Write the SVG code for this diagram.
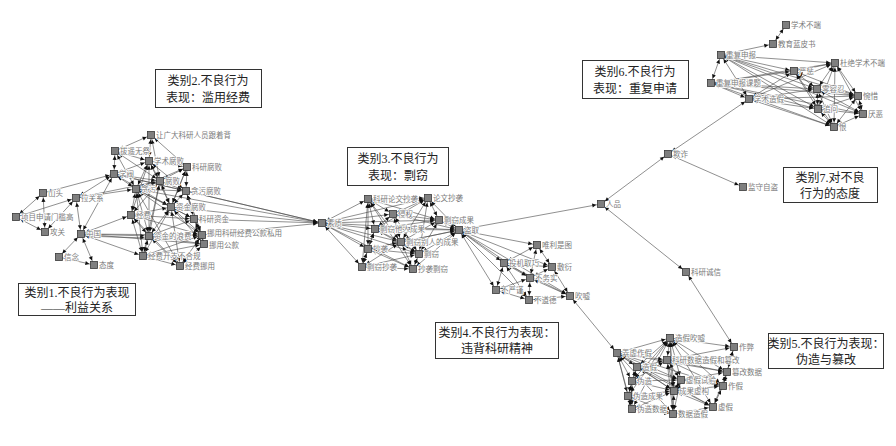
<svg xmlns="http://www.w3.org/2000/svg" width="896" height="446" viewBox="0 0 896 446">
<defs>
<marker id="ah" viewBox="0 0 10 10" refX="22" refY="5" markerUnits="userSpaceOnUse" markerWidth="4" markerHeight="4" orient="auto-start-reverse" overflow="visible"><path d="M0,0L10,5L0,10z" fill="#111"/></marker>
</defs>
<style>
.bg{fill:#fff}
#connectors line{stroke:#444;stroke-width:0.6;marker-start:url(#ah);marker-end:url(#ah)}
.node rect{fill:#7f7f7f;stroke:#3a3a3a;stroke-width:0.8}
.node text{font-family:"Noto Sans CJK SC","Liberation Sans",sans-serif;font-size:7.5px;fill:#7a7a7a;stroke:#fff;stroke-width:1.6;paint-order:stroke;stroke-linejoin:round}
.box rect{fill:#fff;stroke:#333;stroke-width:1}
.box text{font-family:"Liberation Serif","Noto Sans CJK SC",serif;font-size:12px;fill:#222;text-anchor:middle}
</style>
<rect class="bg" x="0" y="0" width="896" height="446"/>
<g id="connectors">
<line x1="16" y1="217" x2="43" y2="193"/>
<line x1="16" y1="217" x2="45" y2="232"/>
<line x1="16" y1="217" x2="76" y2="198"/>
<line x1="43" y1="193" x2="45" y2="232"/>
<line x1="43" y1="193" x2="114" y2="174"/>
<line x1="45" y1="232" x2="76" y2="198"/>
<line x1="76" y1="198" x2="81" y2="234"/>
<line x1="81" y1="234" x2="59" y2="257"/>
<line x1="81" y1="234" x2="94" y2="265"/>
<line x1="59" y1="257" x2="94" y2="265"/>
<line x1="76" y1="198" x2="114" y2="174"/>
<line x1="76" y1="198" x2="136" y2="189"/>
<line x1="76" y1="198" x2="160" y2="181"/>
<line x1="81" y1="234" x2="114" y2="174"/>
<line x1="81" y1="234" x2="131" y2="215"/>
<line x1="81" y1="234" x2="149" y2="236"/>
<line x1="81" y1="236" x2="149" y2="238"/>
<line x1="81" y1="234" x2="202" y2="235"/>
<line x1="81" y1="234" x2="204" y2="244"/>
<line x1="81" y1="234" x2="143" y2="256"/>
<line x1="115" y1="151" x2="151" y2="135"/>
<line x1="115" y1="151" x2="149" y2="161"/>
<line x1="115" y1="151" x2="136" y2="189"/>
<line x1="115" y1="151" x2="160" y2="181"/>
<line x1="151" y1="135" x2="149" y2="161"/>
<line x1="151" y1="135" x2="160" y2="181"/>
<line x1="151" y1="135" x2="187" y2="167"/>
<line x1="149" y1="161" x2="187" y2="167"/>
<line x1="149" y1="161" x2="160" y2="181"/>
<line x1="149" y1="161" x2="136" y2="189"/>
<line x1="149" y1="161" x2="186" y2="191"/>
<line x1="149" y1="161" x2="171" y2="207"/>
<line x1="149" y1="161" x2="131" y2="215"/>
<line x1="114" y1="174" x2="136" y2="189"/>
<line x1="114" y1="174" x2="149" y2="161"/>
<line x1="114" y1="174" x2="160" y2="181"/>
<line x1="114" y1="174" x2="186" y2="191"/>
<line x1="114" y1="174" x2="171" y2="207"/>
<line x1="114" y1="174" x2="115" y2="151"/>
<line x1="187" y1="167" x2="186" y2="191"/>
<line x1="187" y1="167" x2="160" y2="181"/>
<line x1="187" y1="167" x2="136" y2="189"/>
<line x1="187" y1="167" x2="171" y2="207"/>
<line x1="160" y1="181" x2="136" y2="189"/>
<line x1="160" y1="181" x2="186" y2="191"/>
<line x1="160" y1="181" x2="171" y2="207"/>
<line x1="160" y1="181" x2="131" y2="215"/>
<line x1="160" y1="181" x2="149" y2="236"/>
<line x1="160" y1="181" x2="143" y2="256"/>
<line x1="136" y1="189" x2="186" y2="191"/>
<line x1="136" y1="189" x2="171" y2="207"/>
<line x1="136" y1="189" x2="131" y2="215"/>
<line x1="136" y1="189" x2="194" y2="219"/>
<line x1="136" y1="189" x2="149" y2="236"/>
<line x1="136" y1="189" x2="143" y2="256"/>
<line x1="136" y1="189" x2="202" y2="235"/>
<line x1="136" y1="189" x2="180" y2="266"/>
<line x1="186" y1="191" x2="171" y2="207"/>
<line x1="186" y1="191" x2="194" y2="219"/>
<line x1="186" y1="191" x2="202" y2="235"/>
<line x1="186" y1="191" x2="204" y2="244"/>
<line x1="171" y1="207" x2="131" y2="215"/>
<line x1="171" y1="207" x2="194" y2="219"/>
<line x1="171" y1="207" x2="149" y2="236"/>
<line x1="171" y1="207" x2="202" y2="235"/>
<line x1="171" y1="207" x2="204" y2="244"/>
<line x1="171" y1="207" x2="143" y2="256"/>
<line x1="171" y1="207" x2="180" y2="266"/>
<line x1="131" y1="215" x2="149" y2="236"/>
<line x1="131" y1="215" x2="143" y2="256"/>
<line x1="131" y1="215" x2="194" y2="219"/>
<line x1="131" y1="215" x2="202" y2="235"/>
<line x1="131" y1="215" x2="180" y2="266"/>
<line x1="194" y1="219" x2="149" y2="236"/>
<line x1="194" y1="219" x2="202" y2="235"/>
<line x1="194" y1="219" x2="204" y2="244"/>
<line x1="149" y1="236" x2="202" y2="235"/>
<line x1="149" y1="236" x2="204" y2="244"/>
<line x1="149" y1="236" x2="143" y2="256"/>
<line x1="149" y1="236" x2="180" y2="266"/>
<line x1="202" y1="235" x2="204" y2="244"/>
<line x1="202" y1="235" x2="143" y2="256"/>
<line x1="202" y1="235" x2="180" y2="266"/>
<line x1="204" y1="244" x2="143" y2="256"/>
<line x1="204" y1="244" x2="180" y2="266"/>
<line x1="143" y1="256" x2="180" y2="266"/>
<line x1="149" y1="161" x2="149" y2="236"/>
<line x1="187" y1="167" x2="171" y2="207"/>
<line x1="114" y1="174" x2="322" y2="223"/>
<line x1="136" y1="189" x2="322" y2="223"/>
<line x1="186" y1="191" x2="322" y2="223"/>
<line x1="171" y1="207" x2="322" y2="223"/>
<line x1="194" y1="219" x2="322" y2="223"/>
<line x1="202" y1="235" x2="322" y2="223"/>
<line x1="322" y1="223" x2="368" y2="199"/>
<line x1="322" y1="223" x2="428" y2="198"/>
<line x1="322" y1="223" x2="393" y2="214"/>
<line x1="322" y1="223" x2="439" y2="220"/>
<line x1="322" y1="223" x2="375" y2="229"/>
<line x1="322" y1="223" x2="459" y2="230"/>
<line x1="322" y1="223" x2="401" y2="242"/>
<line x1="322" y1="223" x2="368" y2="249"/>
<line x1="322" y1="223" x2="419" y2="254"/>
<line x1="322" y1="223" x2="362" y2="267"/>
<line x1="322" y1="223" x2="413" y2="269"/>
<line x1="368" y1="199" x2="428" y2="198"/>
<line x1="368" y1="199" x2="393" y2="214"/>
<line x1="368" y1="199" x2="375" y2="229"/>
<line x1="368" y1="199" x2="368" y2="249"/>
<line x1="368" y1="199" x2="362" y2="267"/>
<line x1="368" y1="199" x2="401" y2="242"/>
<line x1="368" y1="199" x2="439" y2="220"/>
<line x1="368" y1="199" x2="413" y2="269"/>
<line x1="428" y1="198" x2="393" y2="214"/>
<line x1="428" y1="198" x2="439" y2="220"/>
<line x1="428" y1="198" x2="459" y2="230"/>
<line x1="428" y1="198" x2="375" y2="229"/>
<line x1="428" y1="198" x2="401" y2="242"/>
<line x1="428" y1="198" x2="419" y2="254"/>
<line x1="393" y1="214" x2="375" y2="229"/>
<line x1="393" y1="214" x2="401" y2="242"/>
<line x1="393" y1="214" x2="439" y2="220"/>
<line x1="393" y1="214" x2="459" y2="230"/>
<line x1="393" y1="214" x2="419" y2="254"/>
<line x1="439" y1="220" x2="459" y2="230"/>
<line x1="439" y1="220" x2="401" y2="242"/>
<line x1="439" y1="220" x2="375" y2="229"/>
<line x1="439" y1="220" x2="419" y2="254"/>
<line x1="375" y1="229" x2="401" y2="242"/>
<line x1="375" y1="229" x2="368" y2="249"/>
<line x1="375" y1="229" x2="419" y2="254"/>
<line x1="375" y1="229" x2="459" y2="230"/>
<line x1="375" y1="229" x2="362" y2="267"/>
<line x1="459" y1="230" x2="401" y2="242"/>
<line x1="459" y1="230" x2="419" y2="254"/>
<line x1="459" y1="230" x2="413" y2="269"/>
<line x1="459" y1="230" x2="368" y2="249"/>
<line x1="401" y1="242" x2="368" y2="249"/>
<line x1="401" y1="242" x2="419" y2="254"/>
<line x1="401" y1="242" x2="362" y2="267"/>
<line x1="401" y1="242" x2="413" y2="269"/>
<line x1="368" y1="249" x2="362" y2="267"/>
<line x1="368" y1="249" x2="419" y2="254"/>
<line x1="368" y1="249" x2="413" y2="269"/>
<line x1="419" y1="254" x2="413" y2="269"/>
<line x1="419" y1="254" x2="362" y2="267"/>
<line x1="362" y1="267" x2="413" y2="269"/>
<line x1="459" y1="230" x2="537" y2="245"/>
<line x1="459" y1="230" x2="504" y2="263"/>
<line x1="459" y1="230" x2="552" y2="267"/>
<line x1="459" y1="230" x2="530" y2="278"/>
<line x1="459" y1="230" x2="496" y2="290"/>
<line x1="459" y1="230" x2="570" y2="296"/>
<line x1="459" y1="230" x2="529" y2="300"/>
<line x1="504" y1="263" x2="537" y2="245"/>
<line x1="504" y1="263" x2="552" y2="267"/>
<line x1="504" y1="263" x2="530" y2="278"/>
<line x1="504" y1="263" x2="496" y2="290"/>
<line x1="504" y1="263" x2="529" y2="300"/>
<line x1="504" y1="263" x2="570" y2="296"/>
<line x1="530" y1="278" x2="552" y2="267"/>
<line x1="530" y1="278" x2="496" y2="290"/>
<line x1="530" y1="278" x2="529" y2="300"/>
<line x1="530" y1="278" x2="570" y2="296"/>
<line x1="530" y1="278" x2="537" y2="245"/>
<line x1="552" y1="267" x2="570" y2="296"/>
<line x1="552" y1="267" x2="537" y2="245"/>
<line x1="496" y1="290" x2="529" y2="300"/>
<line x1="529" y1="300" x2="570" y2="296"/>
<line x1="459" y1="230" x2="601" y2="204"/>
<line x1="601" y1="204" x2="668" y2="154"/>
<line x1="668" y1="154" x2="743" y2="187"/>
<line x1="668" y1="154" x2="749" y2="99"/>
<line x1="601" y1="204" x2="686" y2="272"/>
<line x1="686" y1="272" x2="734" y2="347"/>
<line x1="570" y1="296" x2="617" y2="353"/>
<line x1="773" y1="44" x2="786" y2="25"/>
<line x1="721" y1="55" x2="773" y2="44"/>
<line x1="721" y1="55" x2="835" y2="63"/>
<line x1="721" y1="55" x2="794" y2="71"/>
<line x1="721" y1="55" x2="711" y2="83"/>
<line x1="721" y1="55" x2="817" y2="89"/>
<line x1="721" y1="55" x2="858" y2="96"/>
<line x1="721" y1="55" x2="749" y2="99"/>
<line x1="721" y1="55" x2="818" y2="109"/>
<line x1="721" y1="55" x2="863" y2="114"/>
<line x1="721" y1="55" x2="834" y2="127"/>
<line x1="711" y1="83" x2="835" y2="63"/>
<line x1="711" y1="83" x2="794" y2="71"/>
<line x1="711" y1="83" x2="817" y2="89"/>
<line x1="711" y1="83" x2="858" y2="96"/>
<line x1="711" y1="83" x2="749" y2="99"/>
<line x1="711" y1="83" x2="818" y2="109"/>
<line x1="711" y1="83" x2="863" y2="114"/>
<line x1="711" y1="83" x2="834" y2="127"/>
<line x1="749" y1="99" x2="835" y2="63"/>
<line x1="749" y1="99" x2="794" y2="71"/>
<line x1="749" y1="99" x2="817" y2="89"/>
<line x1="749" y1="99" x2="818" y2="109"/>
<line x1="749" y1="99" x2="834" y2="127"/>
<line x1="749" y1="99" x2="858" y2="96"/>
<line x1="794" y1="71" x2="835" y2="63"/>
<line x1="794" y1="71" x2="817" y2="89"/>
<line x1="794" y1="71" x2="818" y2="109"/>
<line x1="794" y1="71" x2="834" y2="127"/>
<line x1="794" y1="71" x2="858" y2="96"/>
<line x1="835" y1="63" x2="817" y2="89"/>
<line x1="835" y1="63" x2="858" y2="96"/>
<line x1="835" y1="63" x2="863" y2="114"/>
<line x1="835" y1="63" x2="818" y2="109"/>
<line x1="835" y1="63" x2="834" y2="127"/>
<line x1="817" y1="89" x2="858" y2="96"/>
<line x1="817" y1="89" x2="818" y2="109"/>
<line x1="817" y1="89" x2="863" y2="114"/>
<line x1="817" y1="89" x2="834" y2="127"/>
<line x1="858" y1="96" x2="818" y2="109"/>
<line x1="858" y1="96" x2="863" y2="114"/>
<line x1="858" y1="96" x2="834" y2="127"/>
<line x1="818" y1="109" x2="863" y2="114"/>
<line x1="818" y1="109" x2="834" y2="127"/>
<line x1="863" y1="114" x2="834" y2="127"/>
<line x1="670" y1="338" x2="734" y2="347"/>
<line x1="670" y1="338" x2="617" y2="353"/>
<line x1="670" y1="338" x2="667" y2="360"/>
<line x1="670" y1="338" x2="637" y2="367"/>
<line x1="670" y1="338" x2="727" y2="372"/>
<line x1="670" y1="338" x2="632" y2="381"/>
<line x1="670" y1="338" x2="681" y2="380"/>
<line x1="670" y1="338" x2="723" y2="386"/>
<line x1="670" y1="338" x2="628" y2="396"/>
<line x1="670" y1="338" x2="674" y2="391"/>
<line x1="670" y1="338" x2="632" y2="409"/>
<line x1="670" y1="338" x2="713" y2="407"/>
<line x1="670" y1="338" x2="673" y2="414"/>
<line x1="617" y1="353" x2="667" y2="360"/>
<line x1="617" y1="353" x2="637" y2="367"/>
<line x1="617" y1="353" x2="632" y2="381"/>
<line x1="617" y1="353" x2="628" y2="396"/>
<line x1="617" y1="353" x2="632" y2="409"/>
<line x1="617" y1="353" x2="674" y2="391"/>
<line x1="617" y1="353" x2="681" y2="380"/>
<line x1="617" y1="353" x2="673" y2="414"/>
<line x1="617" y1="353" x2="713" y2="407"/>
<line x1="617" y1="353" x2="723" y2="386"/>
<line x1="617" y1="353" x2="727" y2="372"/>
<line x1="667" y1="360" x2="637" y2="367"/>
<line x1="667" y1="360" x2="632" y2="381"/>
<line x1="667" y1="360" x2="681" y2="380"/>
<line x1="667" y1="360" x2="674" y2="391"/>
<line x1="667" y1="360" x2="673" y2="414"/>
<line x1="667" y1="360" x2="727" y2="372"/>
<line x1="667" y1="360" x2="723" y2="386"/>
<line x1="637" y1="367" x2="632" y2="381"/>
<line x1="637" y1="367" x2="628" y2="396"/>
<line x1="637" y1="367" x2="681" y2="380"/>
<line x1="637" y1="367" x2="674" y2="391"/>
<line x1="637" y1="367" x2="713" y2="407"/>
<line x1="632" y1="381" x2="628" y2="396"/>
<line x1="632" y1="381" x2="632" y2="409"/>
<line x1="632" y1="381" x2="674" y2="391"/>
<line x1="632" y1="381" x2="681" y2="380"/>
<line x1="681" y1="380" x2="674" y2="391"/>
<line x1="681" y1="380" x2="723" y2="386"/>
<line x1="681" y1="380" x2="673" y2="414"/>
<line x1="681" y1="380" x2="727" y2="372"/>
<line x1="723" y1="386" x2="713" y2="407"/>
<line x1="723" y1="386" x2="674" y2="391"/>
<line x1="723" y1="386" x2="727" y2="372"/>
<line x1="628" y1="396" x2="632" y2="409"/>
<line x1="628" y1="396" x2="674" y2="391"/>
<line x1="628" y1="396" x2="673" y2="414"/>
<line x1="674" y1="391" x2="673" y2="414"/>
<line x1="674" y1="391" x2="713" y2="407"/>
<line x1="632" y1="409" x2="673" y2="414"/>
<line x1="632" y1="409" x2="674" y2="391"/>
<line x1="713" y1="407" x2="673" y2="414"/>
<line x1="734" y1="347" x2="727" y2="372"/>
<line x1="734" y1="347" x2="723" y2="386"/>
<line x1="734" y1="347" x2="667" y2="360"/>
<line x1="727" y1="372" x2="713" y2="407"/>
</g>
<g id="n-shantou" class="node" transform="translate(43,193)"><rect x="-3.5" y="-3.5" width="7" height="7"/><text x="5" y="3">山头</text></g>
<g id="n-menkan" class="node" transform="translate(16,217)"><rect x="-3.5" y="-3.5" width="7" height="7"/><text x="5" y="3">项目申请门槛高</text></g>
<g id="n-gongguan" class="node" transform="translate(45,232)"><rect x="-3.5" y="-3.5" width="7" height="7"/><text x="5" y="3">攻关</text></g>
<g id="n-laguanxi" class="node" transform="translate(76,198)"><rect x="-3.5" y="-3.5" width="7" height="7"/><text x="5" y="3">拉关系</text></g>
<g id="n-zhongguo" class="node" transform="translate(81,234)"><rect x="-3.5" y="-3.5" width="7" height="7"/><text x="5" y="3">中国</text></g>
<g id="n-xinnian" class="node" transform="translate(59,257)"><rect x="-3.5" y="-3.5" width="7" height="7"/><text x="5" y="3">信念</text></g>
<g id="n-taidu" class="node" transform="translate(94,265)"><rect x="-3.5" y="-3.5" width="7" height="7"/><text x="5" y="3">态度</text></g>
<g id="n-xuefa" class="node" transform="translate(114,174)"><rect x="-3.5" y="-3.5" width="7" height="7"/><text x="5" y="3">学阀</text></g>
<g id="n-bayao" class="node" transform="translate(115,151)"><rect x="-3.5" y="-3.5" width="7" height="7"/><text x="5" y="3">拔遥无祭</text></g>
<g id="n-rangguangda" class="node" transform="translate(151,135)"><rect x="-3.5" y="-3.5" width="7" height="7"/><text x="5" y="3">让广大科研人员跟着背</text></g>
<g id="n-xueshufubai" class="node" transform="translate(149,161)"><rect x="-3.5" y="-3.5" width="7" height="7"/><text x="5" y="3">学术腐败</text></g>
<g id="n-keyanfubai" class="node" transform="translate(187,167)"><rect x="-3.5" y="-3.5" width="7" height="7"/><text x="5" y="3">科研腐败</text></g>
<g id="n-fubai" class="node" transform="translate(160,181)"><rect x="-3.5" y="-3.5" width="7" height="7"/><text x="5" y="3">腐败</text></g>
<g id="n-tanwu" class="node" transform="translate(136,189)"><rect x="-3.5" y="-3.5" width="7" height="7"/><text x="5" y="3">贪污</text></g>
<g id="n-tanwufubai" class="node" transform="translate(186,191)"><rect x="-3.5" y="-3.5" width="7" height="7"/><text x="5" y="3">贪污腐败</text></g>
<g id="n-zijinfubai" class="node" transform="translate(171,207)"><rect x="-3.5" y="-3.5" width="7" height="7"/><text x="5" y="3">资金腐败</text></g>
<g id="n-jingfei" class="node" transform="translate(131,215)"><rect x="-3.5" y="-3.5" width="7" height="7"/><text x="5" y="3">经费</text></g>
<g id="n-keyanzijin" class="node" transform="translate(194,219)"><rect x="-3.5" y="-3.5" width="7" height="7"/><text x="5" y="3">科研资金</text></g>
<g id="n-langfei" class="node" transform="translate(149,236)"><rect x="-3.5" y="-3.5" width="7" height="7"/><text x="5" y="3">资金的浪费</text></g>
<g id="n-nuoyongkeyan" class="node" transform="translate(202,235)"><rect x="-3.5" y="-3.5" width="7" height="7"/><text x="5" y="0.5">挪用科研经费公款私用</text></g>
<g id="n-nuoyonggongkuan" class="node" transform="translate(204,244)"><rect x="-3.5" y="-3.5" width="7" height="7"/><text x="5" y="4">挪用公款</text></g>
<g id="n-buhegui" class="node" transform="translate(143,256)"><rect x="-3.5" y="-3.5" width="7" height="7"/><text x="5" y="3">经费开支不合规</text></g>
<g id="n-jingfeinuoyong" class="node" transform="translate(180,266)"><rect x="-3.5" y="-3.5" width="7" height="7"/><text x="5" y="3">经费挪用</text></g>
<g id="n-suzhi" class="node" transform="translate(322,223)"><rect x="-3.5" y="-3.5" width="7" height="7"/><text x="5" y="3">素质</text></g>
<g id="n-keyanlunwen" class="node" transform="translate(368,199)"><rect x="-3.5" y="-3.5" width="7" height="7"/><text x="5" y="3">科研论文抄袭</text></g>
<g id="n-lunwenchaoxi" class="node" transform="translate(428,198)"><rect x="-3.5" y="-3.5" width="7" height="7"/><text x="5" y="3">论文抄袭</text></g>
<g id="n-qinquan" class="node" transform="translate(393,214)"><rect x="-3.5" y="-3.5" width="7" height="7"/><text x="5" y="3">侵权</text></g>
<g id="n-piaoqiechengguo" class="node" transform="translate(439,220)"><rect x="-3.5" y="-3.5" width="7" height="7"/><text x="5" y="3">剽窃成果</text></g>
<g id="n-piaoqietaren" class="node" transform="translate(375,229)"><rect x="-3.5" y="-3.5" width="7" height="7"/><text x="5" y="3">剽窃他人成果</text></g>
<g id="n-daoqu" class="node" transform="translate(459,230)"><rect x="-3.5" y="-3.5" width="7" height="7"/><text x="5" y="3">盗取</text></g>
<g id="n-piaoqiebieren" class="node" transform="translate(401,242)"><rect x="-3.5" y="-3.5" width="7" height="7"/><text x="5" y="3">剽窃别人的成果</text></g>
<g id="n-chaoxi" class="node" transform="translate(368,249)"><rect x="-3.5" y="-3.5" width="7" height="7"/><text x="5" y="3">抄袭</text></g>
<g id="n-piaoqie" class="node" transform="translate(419,254)"><rect x="-3.5" y="-3.5" width="7" height="7"/><text x="5" y="3">剽窃</text></g>
<g id="n-piaoqiechaoxi" class="node" transform="translate(362,267)"><rect x="-3.5" y="-3.5" width="7" height="7"/><text x="5" y="3">剽窃抄袭</text></g>
<g id="n-chaoxipiaoqie" class="node" transform="translate(413,269)"><rect x="-3.5" y="-3.5" width="7" height="7"/><text x="5" y="3">抄袭剽窃</text></g>
<g id="n-weilishitu" class="node" transform="translate(537,245)"><rect x="-3.5" y="-3.5" width="7" height="7"/><text x="5" y="3">唯利是图</text></g>
<g id="n-toujiquqiao" class="node" transform="translate(504,263)"><rect x="-3.5" y="-3.5" width="7" height="7"/><text x="5" y="3">投机取巧</text></g>
<g id="n-fuyan" class="node" transform="translate(552,267)"><rect x="-3.5" y="-3.5" width="7" height="7"/><text x="5" y="3">敷衍</text></g>
<g id="n-buwushi" class="node" transform="translate(530,278)"><rect x="-3.5" y="-3.5" width="7" height="7"/><text x="5" y="3">不务实</text></g>
<g id="n-buyanjin" class="node" transform="translate(496,290)"><rect x="-3.5" y="-3.5" width="7" height="7"/><text x="5" y="3">不严谨</text></g>
<g id="n-chuixu" class="node" transform="translate(570,296)"><rect x="-3.5" y="-3.5" width="7" height="7"/><text x="5" y="3">吹嘘</text></g>
<g id="n-budaode" class="node" transform="translate(529,300)"><rect x="-3.5" y="-3.5" width="7" height="7"/><text x="5" y="3">不道德</text></g>
<g id="n-renpin" class="node" transform="translate(601,204)"><rect x="-3.5" y="-3.5" width="7" height="7"/><text x="5" y="3">人品</text></g>
<g id="n-qizha" class="node" transform="translate(668,154)"><rect x="-3.5" y="-3.5" width="7" height="7"/><text x="5" y="3">欺诈</text></g>
<g id="n-jianshouzidao" class="node" transform="translate(743,187)"><rect x="-3.5" y="-3.5" width="7" height="7"/><text x="5" y="3">监守自盗</text></g>
<g id="n-keyanchengxin" class="node" transform="translate(686,272)"><rect x="-3.5" y="-3.5" width="7" height="7"/><text x="5" y="3">科研诚信</text></g>
<g id="n-xueshubuduan" class="node" transform="translate(786,25)"><rect x="-3.5" y="-3.5" width="7" height="7"/><text x="5" y="3">学术不端</text></g>
<g id="n-lanpishu" class="node" transform="translate(773,44)"><rect x="-3.5" y="-3.5" width="7" height="7"/><text x="5" y="3">教育蓝皮书</text></g>
<g id="n-chongfushenbao" class="node" transform="translate(721,55)"><rect x="-3.5" y="-3.5" width="7" height="7"/><text x="5" y="3">重复申报</text></g>
<g id="n-dujue" class="node" transform="translate(835,63)"><rect x="-3.5" y="-3.5" width="7" height="7"/><text x="5" y="3">杜绝学术不端</text></g>
<g id="n-yancheng" class="node" transform="translate(794,71)"><rect x="-3.5" y="-3.5" width="7" height="7"/><text x="5" y="3">严惩</text></g>
<g id="n-ketizhongfu" class="node" transform="translate(711,83)"><rect x="-3.5" y="-3.5" width="7" height="7"/><text x="5" y="3">重复申报课题</text></g>
<g id="n-lingrongren" class="node" transform="translate(817,89)"><rect x="-3.5" y="-3.5" width="7" height="7"/><text x="5" y="3">零容忍</text></g>
<g id="n-wanxi" class="node" transform="translate(858,96)"><rect x="-3.5" y="-3.5" width="7" height="7"/><text x="5" y="3">惋惜</text></g>
<g id="n-xueshuzaojia" class="node" transform="translate(749,99)"><rect x="-3.5" y="-3.5" width="7" height="7"/><text x="5" y="3">学术造假</text></g>
<g id="n-zhuiwen" class="node" transform="translate(818,109)"><rect x="-3.5" y="-3.5" width="7" height="7"/><text x="5" y="3">追问</text></g>
<g id="n-yanwu" class="node" transform="translate(863,114)"><rect x="-3.5" y="-3.5" width="7" height="7"/><text x="5" y="3">厌恶</text></g>
<g id="n-hen" class="node" transform="translate(834,127)"><rect x="-3.5" y="-3.5" width="7" height="7"/><text x="5" y="3">恨</text></g>
<g id="n-zaojiachuixu" class="node" transform="translate(670,338)"><rect x="-3.5" y="-3.5" width="7" height="7"/><text x="5" y="3">造假吹嘘</text></g>
<g id="n-zuobi" class="node" transform="translate(734,347)"><rect x="-3.5" y="-3.5" width="7" height="7"/><text x="5" y="3">作弊</text></g>
<g id="n-nongxuzuojia" class="node" transform="translate(617,353)"><rect x="-3.5" y="-3.5" width="7" height="7"/><text x="5" y="3">弄虚作假</text></g>
<g id="n-shujucuangai" class="node" transform="translate(667,360)"><rect x="-3.5" y="-3.5" width="7" height="7"/><text x="5" y="3">科研数据造假和篡改</text></g>
<g id="n-zaojia" class="node" transform="translate(637,367)"><rect x="-3.5" y="-3.5" width="7" height="7"/><text x="5" y="3">造假</text></g>
<g id="n-cuangaishuju" class="node" transform="translate(727,372)"><rect x="-3.5" y="-3.5" width="7" height="7"/><text x="5" y="3">篡改数据</text></g>
<g id="n-weizao" class="node" transform="translate(632,381)"><rect x="-3.5" y="-3.5" width="7" height="7"/><text x="5" y="3">伪造</text></g>
<g id="n-xujiashiyan" class="node" transform="translate(681,380)"><rect x="-3.5" y="-3.5" width="7" height="7"/><text x="5" y="3">虚假试验</text></g>
<g id="n-zuojia" class="node" transform="translate(723,386)"><rect x="-3.5" y="-3.5" width="7" height="7"/><text x="5" y="3">作假</text></g>
<g id="n-weizaochengguo" class="node" transform="translate(628,396)"><rect x="-3.5" y="-3.5" width="7" height="7"/><text x="5" y="3">伪造成果</text></g>
<g id="n-chengguoxugou" class="node" transform="translate(674,391)"><rect x="-3.5" y="-3.5" width="7" height="7"/><text x="5" y="3">成果虚构</text></g>
<g id="n-weizaoshuju" class="node" transform="translate(632,409)"><rect x="-3.5" y="-3.5" width="7" height="7"/><text x="5" y="3">伪造数据</text></g>
<g id="n-xujia" class="node" transform="translate(713,407)"><rect x="-3.5" y="-3.5" width="7" height="7"/><text x="5" y="3">虚假</text></g>
<g id="n-shujuzaojia" class="node" transform="translate(673,414)"><rect x="-3.5" y="-3.5" width="7" height="7"/><text x="5" y="3">数据造假</text></g>
<g id="box1" class="box"><rect x="18.5" y="283.5" width="117" height="32"/><text x="77" y="297">类别1.不良行为表现</text><text x="77" y="312">——利益关系</text></g>
<g id="box2" class="box"><rect x="155.5" y="69.5" width="106" height="38"/><text x="208" y="85">类别2.不良行为</text><text x="208" y="102">表现：滥用经费</text></g>
<g id="box3" class="box"><rect x="347.5" y="147.5" width="101" height="38"/><text x="398" y="163">类别3.不良行为</text><text x="398" y="180">表现：剽窃</text></g>
<g id="box4" class="box"><rect x="435.5" y="322.5" width="123" height="36"/><text x="497" y="337">类别4.不良行为表现：</text><text x="497" y="353">违背科研精神</text></g>
<g id="box5" class="box"><rect x="768.5" y="333.5" width="115" height="35"/><text x="826" y="348">类别5.不良行为表现：</text><text x="826" y="364">伪造与篡改</text></g>
<g id="box6" class="box"><rect x="582.5" y="60.5" width="106" height="38"/><text x="635" y="76">类别6.不良行为</text><text x="635" y="93">表现：重复申请</text></g>
<g id="box7" class="box"><rect x="783.5" y="167.5" width="94" height="35"/><text x="830" y="182">类别7.对不良</text><text x="830" y="198">行为的态度</text></g>
</svg>
